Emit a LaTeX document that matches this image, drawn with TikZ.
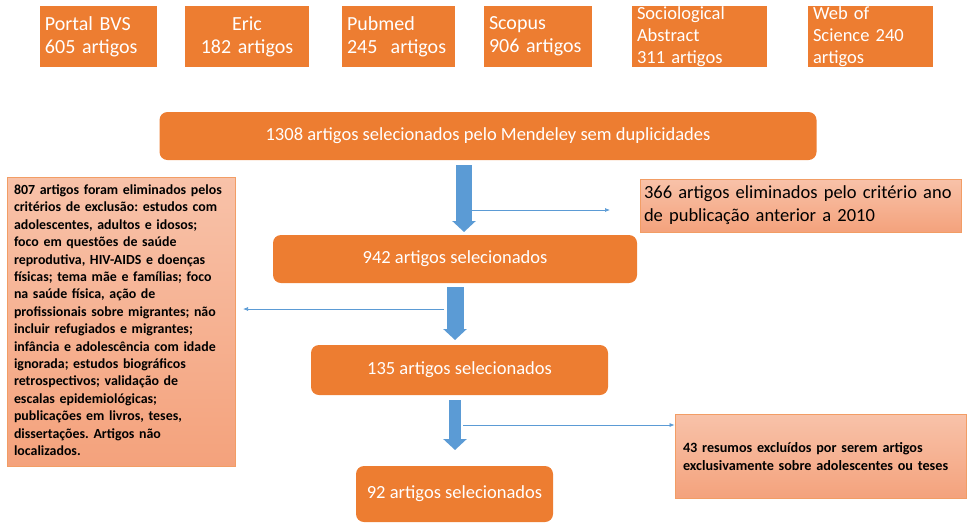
\documentclass[tikz,border=0pt]{standalone}
\usepackage{fontspec}
\setmainfont{Carlito}
\usetikzlibrary{arrows.meta}
\definecolor{laranja}{HTML}{ED7D31}
\definecolor{salmaoclaro}{HTML}{F8C2A9}
\definecolor{salmao}{HTML}{F4A27C}
\definecolor{azul}{HTML}{5B9BD5}
\frenchspacing
\tikzset{
  base/.style={fill=laranja,text=white,align=left,inner xsep=5pt,inner ysep=0pt,
    minimum height=61pt,font=\fontsize{20}{23}\selectfont},
  etapa/.style={fill=laranja,text=white,rounded corners=8pt,inner sep=0pt,
    font=\fontsize{18.5}{22}\selectfont},
  exclui/.style={draw=laranja!75,line width=0.8pt,top color=salmaoclaro,
    bottom color=salmao,align=left,inner ysep=0pt},
  setagrossa/.style={azul,-{Triangle[width=23pt,length=11pt]}},
  setafina/.style={azul,line width=0.7pt,-{Latex[length=5pt,width=4pt]}}
}
\begin{document}
\begin{tikzpicture}[x=1pt,y=-1pt]
        \useasboundingbox (0,0) rectangle (967,523);
        % bases de dados
        \draw (98.5,36.5) node[base,text width=107pt](bvs){Portal BVS\\605 artigos};
        \draw (247,36.5) node[base,text width=114pt,align=center](eric){Eric\\182 artigos};
        \draw (398.5,36.5) node[base,text width=103pt](pubmed){Pubmed\\245~ artigos};
        \draw (538,36.5) node[base,text width=98pt](scopus){Scopus\\906 artigos};
        \draw (699.5,36.5) node[base,text width=125pt,font=\fontsize{18.5}{22}\selectfont](socio){Sociological\\Abstract\\311 artigos};
        \draw (870.5,36.5) node[base,text width=115pt,font=\fontsize{18.5}{22}\selectfont](web){Web of\\Science 240\\artigos};
        % etapas
        \draw (488,136) node[etapa,minimum width=657pt,minimum height=48pt](m1308){1308 artigos selecionados pelo Mendeley sem duplicidades};
        \draw (455,259) node[etapa,minimum width=364pt,minimum height=48pt](m942){942 artigos selecionados};
        \draw (459.5,370) node[etapa,minimum width=297pt,minimum height=50pt](m135){135 artigos selecionados};
        \draw (454.5,494) node[etapa,minimum width=197pt,minimum height=56pt](m92){92 artigos selecionados};
        % exclusoes
        \draw (800.5,205.5) node[exclui,text width=313pt,inner xsep=4pt,minimum height=53pt,
          font=\fontsize{18.5}{23}\selectfont](e366){366 artigos eliminados pelo critério ano\\de publicação anterior a 2010};
        \draw (121,321.5) node[exclui,text width=220pt,inner xsep=4pt,minimum height=289pt,
          font=\bfseries\fontsize{13.9}{17.4}\selectfont](e807){\hspace*{3pt}\begin{tabular}{@{}l@{}}807 artigos foram eliminados pelos\\
          critérios de exclusão: estudos com\\
          adolescentes, adultos e idosos;\\
          foco em questões de saúde\\
          reprodutiva, HIV-AIDS e doenças\\
          físicas; tema mãe e famílias; foco\\
          na saúde física, ação de\\
          profissionais sobre migrantes; não\\
          incluir refugiados e migrantes;\\
          infância e adolescência com idade\\
          ignorada; estudos biográficos\\
          retrospectivos; validação de\\
          escalas epidemiológicas;\\
          publicações em livros, teses,\\
          dissertações. Artigos não\\
          localizados.\end{tabular}};
        \draw (820.5,456.8) node[exclui,text width=275pt,inner xsep=8pt,minimum height=84pt,
          font=\bfseries\fontsize{14.2}{18}\selectfont](e43){43 resumos excluídos por serem artigos\\exclusivamente sobre adolescentes ou teses};
        % setas
        \coordinate (s1) at (464,165);
        \coordinate (f1) at (464,232);
        \coordinate (s2) at (455,287);
        \coordinate (f2) at (455,340);
        \coordinate (s3) at (455,400);
        \coordinate (f3) at (455,450);
        \coordinate (t1) at (472,210);
        \coordinate (u1) at (610,210);
        \coordinate (t2) at (444,309);
        \coordinate (u2) at (243,309);
        \coordinate (t3) at (463,425);
        \draw[setagrossa,line width=16pt] (s1) -- (f1);
        \draw[setagrossa,line width=17pt] (s2) -- (f2);
        \draw[setagrossa,line width=12pt] (s3) -- (f3);
        \draw[setafina] (t1) -- (u1);
        \draw[setafina] (t2) -- (u2);
        \draw[setafina] (t3) -- (t3 -| e43.west);
\end{tikzpicture}
\end{document}
